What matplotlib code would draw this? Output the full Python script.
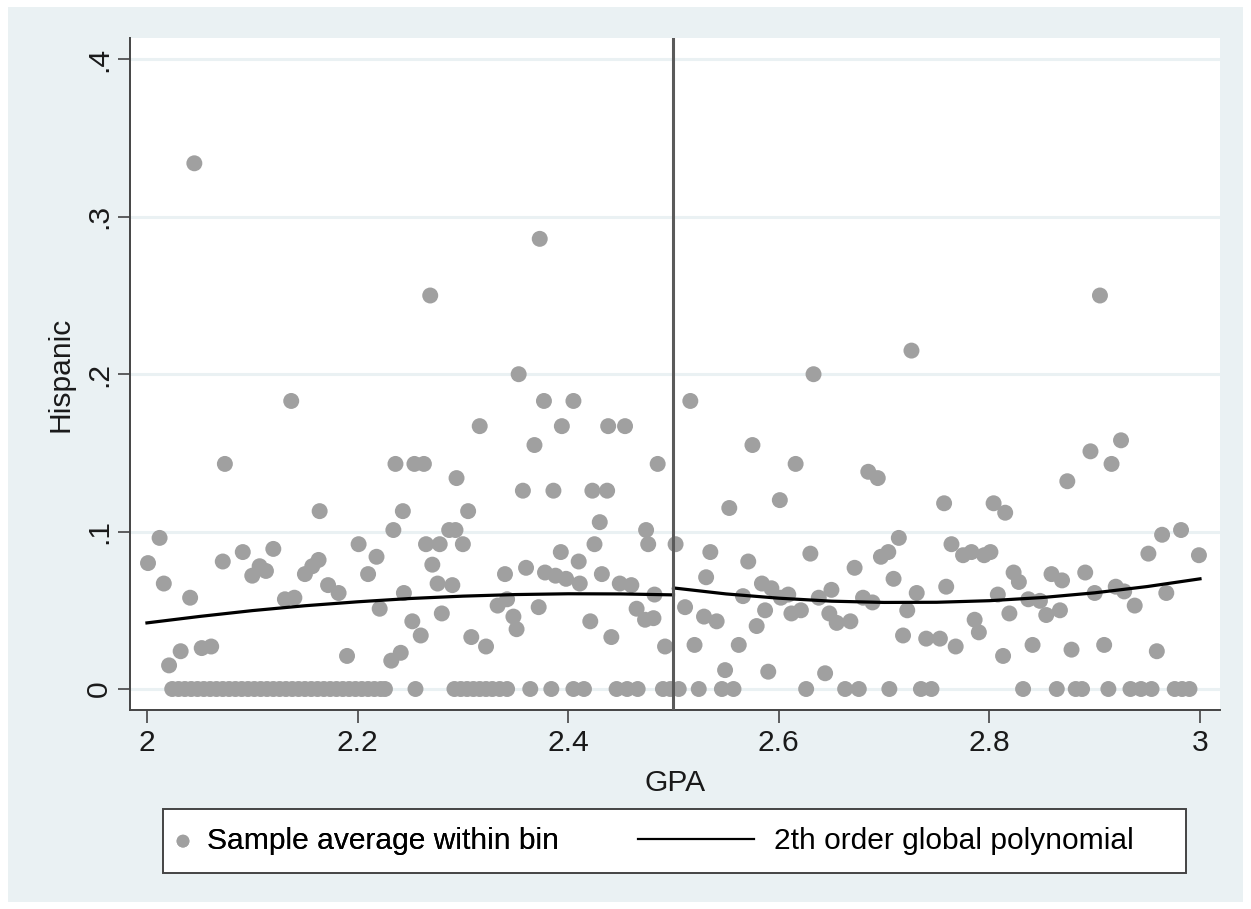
import matplotlib
matplotlib.use('Agg')
import matplotlib.pyplot as plt
import numpy as np
from matplotlib.lines import Line2D
from matplotlib.patches import Rectangle

plt.rcParams['font.family'] = ['Liberation Sans', 'DejaVu Sans']

# bin averages left of the cutoff (GPA, share Hispanic)
gpa_left = [2.001, 2.012, 2.016, 2.021, 2.032, 2.041, 2.045, 2.052, 2.061, 2.072,
            2.074, 2.091, 2.100, 2.107, 2.113, 2.120, 2.131, 2.137, 2.140, 2.150,
            2.157, 2.163, 2.164, 2.172, 2.182, 2.190, 2.201, 2.210, 2.218, 2.221,
            2.232, 2.234, 2.236, 2.241, 2.243, 2.244, 2.252, 2.254, 2.260, 2.263,
            2.265, 2.269, 2.271, 2.276, 2.278, 2.280, 2.287, 2.290, 2.293, 2.294,
            2.300, 2.305, 2.308, 2.316, 2.322, 2.333, 2.340, 2.342, 2.348, 2.351,
            2.353, 2.357, 2.360, 2.368, 2.372, 2.373, 2.377, 2.378, 2.386, 2.388,
            2.393, 2.394, 2.398, 2.405, 2.410, 2.411, 2.421, 2.423, 2.425, 2.430,
            2.432, 2.437, 2.438, 2.441, 2.449, 2.454, 2.460, 2.465, 2.473, 2.474,
            2.476, 2.481, 2.482, 2.485, 2.492]
hisp_left = [.080, .096, .067, .015, .024, .058, .334, .026, .027, .081,
             .143, .087, .072, .078, .075, .089, .057, .183, .058, .073,
             .078, .082, .113, .066, .061, .021, .092, .073, .084, .051,
             .018, .101, .143, .023, .113, .061, .043, .143, .034, .143,
             .092, .250, .079, .067, .092, .048, .101, .066, .101, .134,
             .092, .113, .033, .167, .027, .053, .073, .057, .046, .038,
             .200, .126, .077, .155, .052, .286, .183, .074, .126, .072,
             .087, .167, .070, .183, .081, .067, .043, .126, .092, .106,
             .073, .126, .167, .033, .067, .167, .066, .051, .044, .101,
             .092, .045, .060, .143, .027]
# bins with no Hispanic students, left of the cutoff
gpa_left_zero = [2.024, 2.030, 2.036, 2.042, 2.048, 2.054, 2.060, 2.066, 2.072,
                 2.078, 2.084, 2.090, 2.096, 2.102, 2.108, 2.114, 2.120, 2.126,
                 2.132, 2.138, 2.144, 2.150, 2.156, 2.162, 2.168, 2.174, 2.180,
                 2.186, 2.192, 2.198, 2.204, 2.210, 2.216, 2.222, 2.226, 2.255,
                 2.292, 2.298, 2.304, 2.310, 2.316, 2.322, 2.328, 2.335, 2.342,
                 2.364, 2.384, 2.405, 2.415, 2.446, 2.456, 2.466, 2.490, 2.497]

gpa_right = [2.502, 2.511, 2.516, 2.520, 2.529, 2.531, 2.535, 2.541, 2.549, 2.553,
             2.562, 2.566, 2.571, 2.575, 2.579, 2.584, 2.587, 2.590, 2.593, 2.601,
             2.602, 2.609, 2.612, 2.616, 2.621, 2.630, 2.633, 2.638, 2.644, 2.648,
             2.650, 2.655, 2.668, 2.672, 2.680, 2.685, 2.689, 2.694, 2.697, 2.704,
             2.709, 2.714, 2.718, 2.722, 2.726, 2.731, 2.740, 2.753, 2.757, 2.759,
             2.764, 2.768, 2.775, 2.783, 2.786, 2.790, 2.795, 2.801, 2.804, 2.808,
             2.813, 2.815, 2.819, 2.823, 2.828, 2.837, 2.841, 2.848, 2.854, 2.859,
             2.867, 2.869, 2.874, 2.878, 2.891, 2.896, 2.900, 2.905, 2.909, 2.916,
             2.920, 2.925, 2.928, 2.938, 2.951, 2.959, 2.964, 2.968, 2.982, 2.999]
hisp_right = [.092, .052, .183, .028, .046, .071, .087, .043, .012, .115,
              .028, .059, .081, .155, .040, .067, .050, .011, .064, .120,
              .058, .060, .048, .143, .050, .086, .200, .058, .010, .048,
              .063, .042, .043, .077, .058, .138, .055, .134, .084, .087,
              .070, .096, .034, .050, .215, .061, .032, .032, .118, .065,
              .092, .027, .085, .087, .044, .036, .085, .087, .118, .060,
              .021, .112, .048, .074, .068, .057, .028, .056, .047, .073,
              .050, .069, .132, .025, .074, .151, .061, .250, .028, .143,
              .065, .158, .062, .053, .086, .024, .098, .061, .101, .085]
gpa_right_zero = [2.505, 2.524, 2.546, 2.557, 2.626, 2.663, 2.676, 2.705, 2.735,
                  2.745, 2.832, 2.864, 2.882, 2.888, 2.913, 2.934, 2.944, 2.954,
                  2.976, 2.983, 2.990]

# fitted 2nd order polynomial on each side
fit_left_x = [2.00, 2.05, 2.10, 2.15, 2.20, 2.25, 2.30, 2.35, 2.40, 2.45, 2.50]
fit_left_y = [.0420, .0461, .0498, .0529, .0554, .0575, .0590, .0600, .0605, .0604, .0598]
fit_right_x = [2.50, 2.55, 2.60, 2.65, 2.70, 2.75, 2.80, 2.85, 2.90, 2.95, 3.00]
fit_right_y = [.0642, .0604, .0577, .0558, .0550, .0551, .0561, .0581, .0611, .0651, .0700]

cutoff = 2.5
x_ticks = [2, 2.2, 2.4, 2.6, 2.8, 3]
x_tick_labels = ['2', '2.2', '2.4', '2.6', '2.8', '3']
y_ticks = [0, .1, .2, .3, .4]
y_tick_labels = ['0', '.1', '.2', '.3', '.4']

W, H = 1251, 909
fs = 21.6
dot_color = '#a0a0a0'
bg_color = '#eaf1f3'

fig = plt.figure(figsize=(W / 100, H / 100), dpi=100)
fig.patch.set_facecolor('white')
fig.patches.append(Rectangle((8 / W, 1 - 902 / H), 1235 / W, 895 / H,
                             transform=fig.transFigure, facecolor=bg_color,
                             edgecolor='none', zorder=-2))

ax = fig.add_axes([130 / W, 1 - 710 / H, 1090 / W, 672 / H])
ax.set_facecolor('white')

xs = np.concatenate([gpa_left, gpa_left_zero, gpa_right, gpa_right_zero])
ys = np.concatenate([hisp_left, np.zeros(len(gpa_left_zero)),
                     hisp_right, np.zeros(len(gpa_right_zero))])
pts = ax.scatter(xs, ys, s=132, color=dot_color, edgecolors='none', zorder=3)
ax.plot(fit_left_x, fit_left_y, color='black', lw=2.3, zorder=4)
ax.plot(fit_right_x, fit_right_y, color='black', lw=2.3, zorder=4)
ax.axvline(cutoff, color='#5a5a5a', lw=2.2, zorder=5)

ax.set_xlim(1.9839, 3.019)
ax.set_ylim(-0.01334, 0.4136)
ax.set_xticks(x_ticks, labels=x_tick_labels)
ax.set_yticks(y_ticks, labels=y_tick_labels)
for lbl in ax.get_yticklabels():
    lbl.set_rotation(90)
    lbl.set_va('center')
ax.yaxis.grid(True, color=bg_color, lw=2.2, zorder=0)
ax.set_axisbelow(True)

for side in ['top', 'right']:
    ax.spines[side].set_visible(False)
for side in ['left', 'bottom']:
    ax.spines[side].set_color('#444444')
    ax.spines[side].set_linewidth(1.4)
ax.tick_params(axis='both', direction='out', length=9, width=1.2,
               color='#444444', labelsize=fs, labelcolor='#1a1a1a')
ax.tick_params(axis='x', pad=5)
ax.tick_params(axis='y', pad=3)

ax.set_xlabel('GPA', fontsize=fs, color='#1a1a1a')
ax.set_ylabel('Hispanic', fontsize=fs, color='#1a1a1a')
ax.xaxis.set_label_coords(0.5, -0.088)
ax.yaxis.set_label_coords(-0.051, 0.5)

# legend box and its two entries
fig.patches.append(Rectangle((163 / W, 1 - 873 / H), 1023 / W, 64 / H,
                             transform=fig.transFigure, facecolor='white',
                             edgecolor='#444444', lw=1.4, zorder=1))
leg1 = fig.legend([pts], ['Sample average within bin'], loc='center left',
                  bbox_to_anchor=(171 / W, 1 - 841 / H), frameon=False,
                  fontsize=fs, handlelength=0.8, handletextpad=0.4,
                  borderpad=0, borderaxespad=0, markerscale=0.8,
                  scatterpoints=1)
fig.add_artist(leg1)
leg_line = Line2D([], [], color='black', lw=1.6)
fig.legend([leg_line], ['2th order global polynomial'], loc='center left',
           bbox_to_anchor=(638 / W, 1 - 841 / H), frameon=False,
           fontsize=fs, handlelength=3.85, handletextpad=0.68,
           borderpad=0, borderaxespad=0)

fig.savefig('out.png', dpi=100, facecolor=fig.get_facecolor())
